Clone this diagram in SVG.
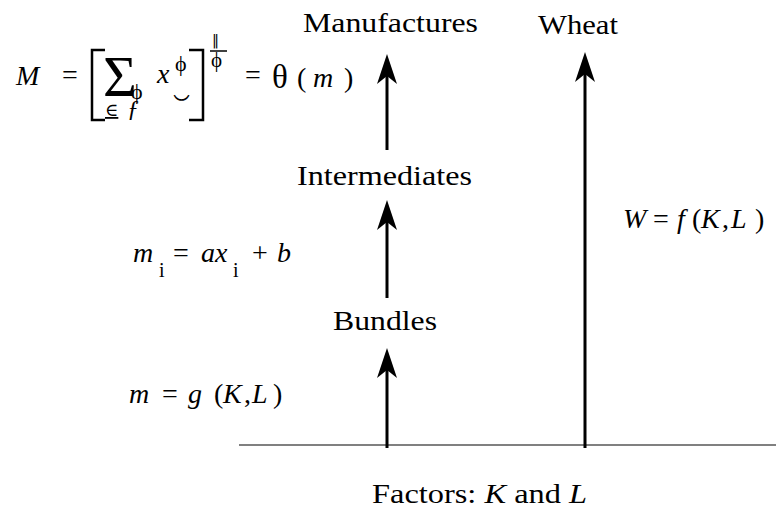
<svg xmlns="http://www.w3.org/2000/svg" width="776" height="527" viewBox="0 0 776 527">
  <style>
    text { font-family: "Liberation Serif", "Times New Roman", Tinos, "Nimbus Roman", serif; fill: #000; }
    .lbl { font-size: 28px; }
    .math { font-size: 28px; }
    .it { font-style: italic; }
    .sym { font-family: "Liberation Serif", "DejaVu Serif", serif; }
    .bar { font-family: "DejaVu Sans", sans-serif; }
    .conn { stroke: #000; stroke-width: 3; fill: none; }
    .axis { stroke: #808080; stroke-width: 2; fill: none; }
    .delim { stroke: #000; stroke-width: 2.5; fill: none; }
  </style>
  <defs>
    <marker id="arrow" viewBox="0 -10 30 20" refX="8" refY="0" markerWidth="30" markerHeight="20" markerUnits="userSpaceOnUse" orient="auto">
      <path d="M30,0 L0,-10 L8,0 L0,10 Z" fill="#000"/>
    </marker>
  </defs>

  <rect width="776" height="527" fill="#fff"/>

  <g id="node-factors">
    <line class="axis" x1="239" y1="445" x2="776" y2="445"/>
    <text class="lbl" x="372" y="503" textLength="215" lengthAdjust="spacingAndGlyphs">Factors: <tspan class="it">K</tspan> and <tspan class="it">L</tspan></text>
  </g>

  <g id="node-bundles">
    <text class="lbl" x="333" y="330" textLength="104" lengthAdjust="spacingAndGlyphs">Bundles</text>
  </g>

  <g id="node-intermediates">
    <text class="lbl" x="297" y="185" textLength="175" lengthAdjust="spacingAndGlyphs">Intermediates</text>
  </g>

  <g id="node-manufactures">
    <text class="lbl" x="303" y="32" textLength="175" lengthAdjust="spacingAndGlyphs">Manufactures</text>
  </g>

  <g id="node-wheat">
    <text class="lbl" x="538" y="34" textLength="80" lengthAdjust="spacingAndGlyphs">Wheat</text>
  </g>

  <g id="connectors">
    <line class="conn" x1="387" y1="448" x2="387" y2="370" marker-end="url(#arrow)"/>
    <line class="conn" x1="387" y1="298" x2="387" y2="222" marker-end="url(#arrow)"/>
    <line class="conn" x1="387" y1="150" x2="387" y2="76" marker-end="url(#arrow)"/>
    <line class="conn" x1="585" y1="448" x2="585" y2="74" marker-end="url(#arrow)"/>
  </g>

  <g id="label-bundles-formula">
    <text class="math"><tspan class="it" x="129" y="403">m</tspan><tspan x="162" y="403">=</tspan><tspan class="it" x="188" y="403">g</tspan><tspan x="214" y="403">(</tspan><tspan class="it" x="223" y="403">K</tspan><tspan x="244" y="403">,</tspan><tspan class="it" x="252" y="403">L</tspan><tspan x="273" y="403">)</tspan></text>
  </g>

  <g id="label-intermediates-formula">
    <text class="math"><tspan class="it" x="133" y="262">m</tspan><tspan x="159" y="277" font-size="20">i</tspan><tspan x="173" y="262">=</tspan><tspan class="it" x="201" y="262">ax</tspan><tspan x="233" y="277" font-size="20">i</tspan><tspan x="252" y="262">+</tspan><tspan class="it" x="277" y="262">b</tspan></text>
  </g>

  <g id="label-wheat-formula">
    <text class="math"><tspan class="it" x="623" y="228">W</tspan><tspan x="653" y="228">=</tspan><tspan class="it" x="677" y="228">f</tspan><tspan x="692" y="228">(</tspan><tspan class="it" x="701" y="228">K</tspan><tspan x="722" y="228">,</tspan><tspan class="it" x="731" y="228">L</tspan><tspan x="755" y="228">)</tspan></text>
  </g>

  <g id="label-manufactures-formula">
    <text class="math it" x="16" y="85" font-size="30">M</text>
    <text class="math" x="62" y="84" font-size="24">=</text>
    <polyline class="delim" points="105,50 92,50 92,120 105,120"/>
    <text class="sym" x="103" y="96" font-size="58">Σ</text>
    <text class="sym" x="105" y="116" font-size="18" text-decoration="underline">∈</text>
    <text class="sym it" x="127" y="116" font-size="24">ƒ</text>
    <text class="sym" x="131" y="99" font-size="22">ϕ</text>
    <text class="math it" x="157" y="83" font-size="30">x</text>
    <text class="sym" x="175" y="71" font-size="22">ϕ</text>
    <text class="sym" x="173" y="94" font-size="28">‿</text>
    <polyline class="delim" points="189,50 203,50 203,120 189,120"/>
    <text class="bar" x="212" y="45" font-size="14">‖</text>
    <line x1="210" y1="51" x2="227" y2="51" stroke="#000" stroke-width="1.5"/>
    <text class="sym" x="211" y="67" font-size="21">ϕ</text>
    <text class="math" x="245" y="84" font-size="24">=</text>
    <text class="sym" x="272" y="88" font-size="33">θ</text>
    <text class="math" x="297" y="87" font-size="30">(</text>
    <text class="math it" x="313" y="87" font-size="30">m</text>
    <text class="math" x="344" y="87" font-size="30">)</text>
  </g>
</svg>
